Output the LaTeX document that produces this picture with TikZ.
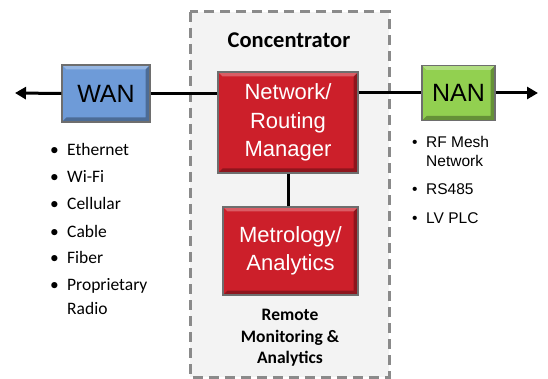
\documentclass[tikz,border=0pt]{standalone}
\usepackage{fontspec}
\setmainfont{Liberation Sans}
\newfontfamily\carlitofont{Carlito}
\usetikzlibrary{arrows.meta}
\definecolor{boxred}{HTML}{CC1F2A}
\definecolor{wanblue}{HTML}{6E9BD8}
\definecolor{nangreen}{HTML}{92D050}
\definecolor{panelgray}{HTML}{F3F3F3}
\definecolor{dashgray}{HTML}{8A8A8A}
\definecolor{edgegray}{HTML}{6E6E6E}
\tikzset{
  bevelbox/.style={draw=edgegray, line width=1.4pt, inner sep=0pt,
    path picture={
      \fill[black,opacity=.3] (path picture bounding box.south west) -- (path picture bounding box.south east)
        -- (path picture bounding box.north east) -- ([xshift=-4.5pt,yshift=-4.5pt]path picture bounding box.north east)
        -- ([xshift=-4.5pt,yshift=4.5pt]path picture bounding box.south east) -- ([xshift=4.5pt,yshift=4.5pt]path picture bounding box.south west) -- cycle;
      \fill[white,opacity=.28] (path picture bounding box.north west) -- (path picture bounding box.north east)
        -- ([xshift=-4.5pt,yshift=-4.5pt]path picture bounding box.north east) -- ([xshift=4.5pt,yshift=-4.5pt]path picture bounding box.north west) -- cycle;
    }},
  redbox/.style={bevelbox, fill=boxred, text=white, align=center, font=\fontsize{22}{28.5}\selectfont},
  netbox/.style={bevelbox, text=black, font=\fontsize{25}{28}\selectfont},
  wire/.style={line width=3pt, black},
  arrowwire/.style={wire, -{Triangle[length=11pt,width=12pt]}},
  lefttext/.style={anchor=base west, inner sep=0pt, font=\carlitofont\fontsize{17.5}{20}\selectfont},
  righttext/.style={anchor=base west, inner sep=0pt, font=\fontsize{15.5}{18}\selectfont},
  boldlabel/.style={inner sep=0pt, font=\carlitofont\bfseries\fontsize{17.5}{21.5}\selectfont, align=center},
}
\begin{document}
\begin{tikzpicture}[x=1pt,y=-1pt]
\useasboundingbox (0,0) rectangle (548,379);
% concentrator panel
\draw[dashgray, fill=panelgray, line width=3pt, dash pattern=on 10pt off 6pt] (190,12) rectangle (389,377);
\node[inner sep=0pt, anchor=base, font=\carlitofont\bfseries\fontsize{22.5}{24}\selectfont] (title) at (289,48) {Concentrator};
% boxes
\node[redbox, minimum width=140pt, minimum height=101pt] (net) at (288,122.5) {Network/\\Routing\\Manager};
\node[redbox, minimum width=135pt, minimum height=88pt] (met) at (290.5,251) {Metrology/\\Analytics};
\node[netbox, fill=wanblue, minimum width=88pt, minimum height=57pt] (wan) at (106,93.5) {WAN};
\node[netbox, fill=nangreen, minimum width=73pt, minimum height=55pt] (nan) at (458.5,93) {NAN};
\node[boldlabel] (rma) at (290,338) {Remote\\Monitoring \&\\Analytics};
% connectors
\coordinate (leftend) at (15,93);
\coordinate (rightend) at (538,93);
\draw[wire] (wan.east) -- (wan.east -| net.west);
\draw[wire] (net.east |- nan.west) -- (nan.west);
\draw[wire] (net.south) -- (net.south |- met.north);
\draw[arrowwire] (wan.west) -- (leftend);
\draw[arrowwire] (nan.east) -- (rightend);
% left bullets
\foreach \y/\t [count=\i] in {156/Ethernet,183/Wi-Fi,210/Cellular,237/Cable,263/Fiber,290/Proprietary}{
  \node[lefttext] (lb\i) at (50,\y) {•};
  \node[lefttext] (lt\i) at (67,\y) {\t};
}
\node[lefttext] (lt7) at (67,314) {Radio};
% right bullets
\foreach \y/\t [count=\i] in {148/RF Mesh,195/RS485,223/LV PLC}{
  \node[righttext] (rb\i) at (412,\y) {•};
  \node[righttext] (rt\i) at (426,\y) {\t};
}
\node[righttext] (rt4) at (426,167) {Network};
\end{tikzpicture}
\end{document}
